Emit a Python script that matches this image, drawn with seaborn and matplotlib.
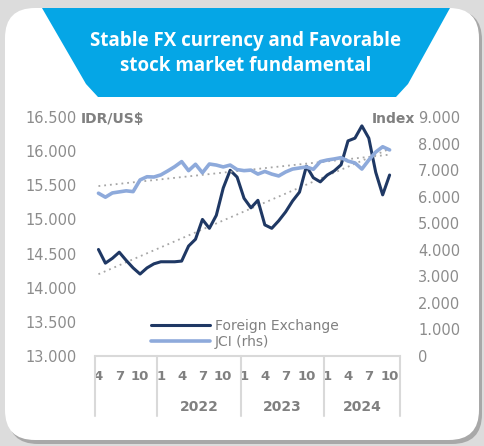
import numpy as np
import pandas as pd
import matplotlib.pyplot as plt
import seaborn as sns
from matplotlib.patches import FancyBboxPatch, Polygon
from matplotlib.transforms import IdentityTransform, blended_transform_factory
from matplotlib.lines import Line2D

# monthly data, Apr 2021 - Oct 2024
months = [4, 5, 6, 7, 8, 9, 10, 11, 12,
          1, 2, 3, 4, 5, 6, 7, 8, 9, 10, 11, 12,
          1, 2, 3, 4, 5, 6, 7, 8, 9, 10, 11, 12,
          1, 2, 3, 4, 5, 6, 7, 8, 9, 10]
years = [2021] * 9 + [2022] * 12 + [2023] * 12 + [2024] * 10
fx = [14560, 14360, 14430, 14520, 14400, 14290, 14200, 14290, 14350,
      14380, 14380, 14380, 14390, 14610, 14710, 15000, 14870, 15060, 15460, 15720, 15620,
      15310, 15170, 15280, 14920, 14870, 14980, 15110, 15270, 15400, 15780, 15610, 15550,
      15650, 15710, 15800, 16150, 16190, 16370, 16190, 15690, 15360, 15650]
jci = [6130, 5980, 6140, 6180, 6220, 6190, 6630, 6750, 6740,
       6820, 6970, 7130, 7320, 6980, 7220, 6900, 7230, 7190, 7120, 7190, 7020,
       6980, 7000, 6850, 6950, 6850, 6780, 6930, 7040, 7080, 7120, 7030, 7320,
       7380, 7420, 7470, 7340, 7270, 7040, 7380, 7680, 7880, 7760]
year_labels = ['2022', '2023', '2024']

df = pd.DataFrame({'idx': range(len(fx)), 'month': months, 'year': years,
                   'fx': fx, 'jci': jci})

sns.set_style('white')
plt.rcParams['font.family'] = ['DejaVu Sans']
grey = '#808080'
tick_grey = '#8c8c8c'
navy = '#1f3864'
light = '#8eaadb'

fig = plt.figure(figsize=(4.84, 4.46), dpi=100)
fig.patch.set_facecolor('#dcdcdc')
H = 446
px = IdentityTransform()

# card background
fig.patches.append(FancyBboxPatch((8, H - 444), 474, 434, boxstyle='round,pad=0,rounding_size=30',
                                  fc='#a8a8a8', ec='none', transform=px, zorder=-3))
fig.patches.append(FancyBboxPatch((5, H - 440), 474, 432, boxstyle='round,pad=0,rounding_size=30',
                                  fc='white', ec='none', transform=px, zorder=-2))
banner = [(42, 8), (450, 8), (408, 84), (396, 97), (98, 97), (86, 84)]
fig.patches.append(Polygon([(x, H - y) for x, y in banner], closed=True, fc='#05a6e6',
                           ec='none', transform=px, zorder=-1))
fig.text(246 / 484, 1 - 41 / H, 'Stable FX currency and Favorable', color='white',
         fontsize=13.5, fontweight='bold', ha='center', va='center', family='Open Sans')
fig.text(246 / 484, 1 - 66 / H, 'stock market fundamental', color='white',
         fontsize=13.5, fontweight='bold', ha='center', va='center', family='Open Sans')

ax = fig.add_axes([95 / 484, 1 - 356 / H, 305 / 484, 239 / H])
ax.patch.set_alpha(0)
ax2 = ax.twinx()
ax2.patch.set_alpha(0)

sns.lineplot(data=df, x='idx', y='fx', color=navy, lw=2.2, ax=ax, zorder=3)
sns.lineplot(data=df, x='idx', y='jci', color=light, lw=2.6, ax=ax2, zorder=3)

# linear trendlines
dot = dict(color='#a6a6a6', lw=1.3, linestyle=(0, (1, 2.2)))
sns.regplot(data=df, x='idx', y='fx', scatter=False, ci=None, ax=ax, line_kws=dot)
sns.regplot(data=df, x='idx', y='jci', scatter=False, ci=None, ax=ax2, line_kws=dot)

ax.set_xlim(-0.5, 43.5)
ax.set_ylim(13000, 16500)
ax2.set_ylim(0, 9000)
ax.set_yticks(np.arange(13000, 16501, 500))
ax2.set_yticks(np.arange(0, 9001, 1000))
fmt = lambda v, p: f'{int(v):,}'.replace(',', '.')
ax.yaxis.set_major_formatter(plt.FuncFormatter(fmt))
ax2.yaxis.set_major_formatter(plt.FuncFormatter(fmt))
ax.tick_params(axis='y', length=0, pad=13, labelsize=10.5, labelcolor=tick_grey)
ax2.tick_params(axis='y', length=0, pad=13, labelsize=10.5, labelcolor=tick_grey)
ax.set_ylabel('')
ax2.set_ylabel('')
ax.set_xlabel('')
ax2.set_xlabel('')

tick_idx = [i for i, m in enumerate(months) if m in (1, 4, 7, 10)]
ax.set_xticks(tick_idx)
ax.set_xticklabels([str(months[i]) for i in tick_idx], fontweight='bold', fontsize=9.5, color=grey)
ax.tick_params(axis='x', length=0, pad=10)

for a in (ax, ax2):
    for s in ('top', 'left', 'right', 'bottom'):
        a.spines[s].set_visible(False)
ax.spines['bottom'].set_visible(True)
ax.spines['bottom'].set_color('#d9d9d9')
ax.spines['bottom'].set_linewidth(1.5)

# category separators and year labels
trans = blended_transform_factory(ax.transData, ax.transAxes)
bounds = [-0.5] + [i - 0.5 for i, m in enumerate(months) if m == 1] + [43.5]
for b in bounds:
    ax.add_line(Line2D([b, b], [0, -0.25], transform=trans, color='#d9d9d9', lw=1.5, clip_on=False))
for k, lab in enumerate(year_labels):
    ax.text((bounds[k + 1] + bounds[k + 2]) / 2, -0.215, lab, transform=trans, ha='center',
            va='center', fontsize=10, fontweight='bold', color=grey)

ax.text(-0.047, 0.99, 'IDR/US$', transform=ax.transAxes, ha='left', va='center',
        fontsize=10, fontweight='bold', color=grey)
ax.text(1.05, 0.99, 'Index', transform=ax.transAxes, ha='right', va='center',
        fontsize=10, fontweight='bold', color=grey)

handles = [Line2D([], [], color=navy, lw=2.2), Line2D([], [], color=light, lw=2.6)]
ax2.legend(handles, ['Foreign Exchange', 'JCI (rhs)'], loc='lower left',
           bbox_to_anchor=(0.16, 0.0), frameon=False, fontsize=10, labelcolor=grey,
           handlelength=4.3, handletextpad=0.3, labelspacing=0.15, borderpad=0)

fig.savefig('out.png', dpi=100, facecolor=fig.get_facecolor())
